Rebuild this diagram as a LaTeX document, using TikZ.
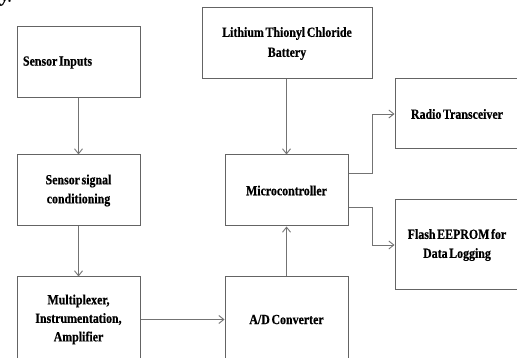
\documentclass[tikz,border=0pt]{standalone}
\usepackage{fontspec}
\setmainfont{Liberation Serif}[FakeStretch=0.85, WordSpace=0.55, FakeBold=0.6]
\usetikzlibrary{arrows.meta}
\definecolor{ln}{RGB}{100,100,100}
\definecolor{ar}{RGB}{115,115,115}
\begin{document}
\begin{tikzpicture}[x=1pt,y=-1pt,
  box/.style={draw=ln, line width=1pt, rectangle, inner sep=0pt, align=center,
    font=\fontsize{14}{19}\selectfont\bfseries},
  conn/.style={draw=ar, line width=0.9pt, -{Straight Barb[length=5pt,width=8pt]}}]
\useasboundingbox (0,0) rectangle (517,358);
\clip (0,0) rectangle (517,358);
\node[anchor=base west, inner sep=0pt, font=\itshape\fontsize{20}{20}\selectfont] (frag) at (1,1.5) {y.};
\node[box, minimum width=123pt, minimum height=71pt, align=flush left, text width=111pt] (in) at (78.5,62.5) {Sensor Inputs};
\node[box, minimum width=123pt, minimum height=71pt] (sc) at (78.5,190.5) {Sensor signal\\conditioning};
\node[box, minimum width=123pt, minimum height=85pt, font=\fontsize{14}{18.5}\selectfont\bfseries] (mux) at (78.5,319.5) {Multiplexer,\\Instrumentation,\\Amplifier};
\node[box, minimum width=170pt, minimum height=71pt, font=\fontsize{14}{20}\selectfont\bfseries] (bat) at (287,43.5) {Lithium Thionyl Chloride\\Battery};
\node[box, minimum width=123pt, minimum height=71pt] (mcu) at (286.5,190.5) {Microcontroller};
\node[box, minimum width=123pt, minimum height=85pt] (adc) at (286.5,319.5) {A/D Converter};
\node[box, minimum width=124pt, minimum height=70pt] (rad) at (457,114) {Radio Transceiver};
\node[box, minimum width=124pt, minimum height=90pt] (fl) at (457,245) {Flash EEPROM for\\Data Logging};
\draw[conn] (in.south) -- (sc.north);
\draw[conn] (sc.south) -- (mux.north);
\draw[conn] (mux.east) -- (adc.west);
\draw[conn] (adc.north) -- (mcu.south);
\draw[conn] (mcu.north |- bat.south) -- (mcu.north);
\draw[conn] ([yshift=17.5pt]mcu.east) -- ++(24,0) |- (rad.west);
\draw[conn] ([yshift=-16.5pt]mcu.east) -- ++(24,0) |- (fl.west);
\end{tikzpicture}
\end{document}
